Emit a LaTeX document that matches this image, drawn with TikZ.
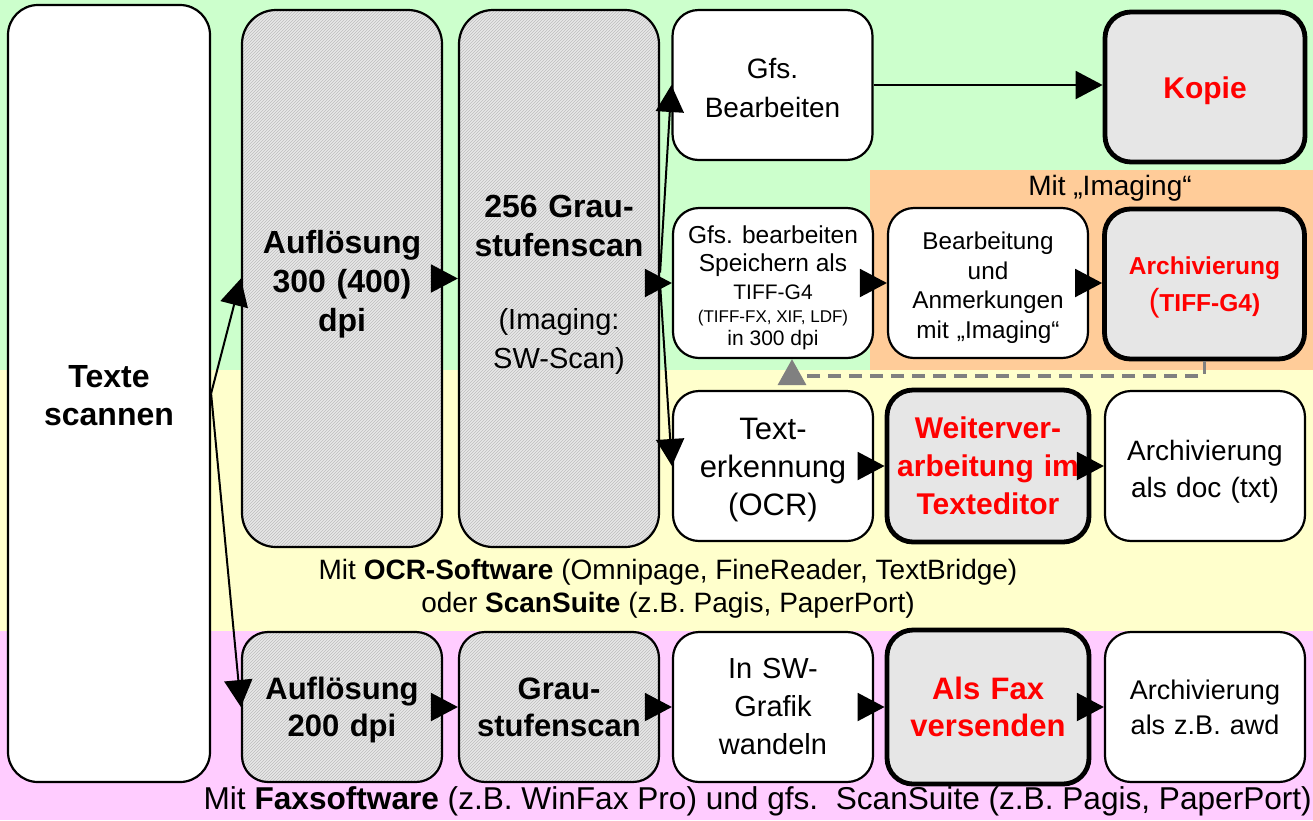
\documentclass[tikz,border=0pt]{standalone}
\usepackage{fontspec}
\setmainfont{Liberation Sans}
\usetikzlibrary{arrows.meta,patterns}
\newcommand\fsz[2]{\fontsize{#1}{#2}\selectfont}
% raise the top of the first line by #1pt (moves the centred text block down by #1/2)
\newcommand\dn[1]{\rule{0pt}{\dimexpr\fontcharht\font`l+#1pt\relax}}
\definecolor{bgGreen}{HTML}{CCFFCC}
\definecolor{bgYellow}{HTML}{FFFFCC}
\definecolor{bgPink}{HTML}{FFCCFF}
\definecolor{bgOrange}{HTML}{FFCC99}
\definecolor{boxGray}{HTML}{E6E6E6}
\definecolor{hatchBack}{HTML}{E8E8E8}
\definecolor{hatchGray}{HTML}{BDBDBD}
\definecolor{dashGray}{HTML}{808080}
\begin{document}
\begin{tikzpicture}[x=1pt,y=-1pt,
  box/.style={draw=black, line width=2.2pt, rounded corners=26pt, fill=white,
    minimum width=200pt, minimum height=150pt, text width=194pt, inner sep=0pt,
    align=center, font=\fsz{30}{38}},
  thickbox/.style={box, line width=4.8pt, fill=boxGray, text=red},
  hatchbox/.style={box, fill=none, preaction={fill=hatchBack}, pattern=north east lines,
    pattern color=hatchGray, font=\fsz{32}{39}\bfseries},
  arr/.style={draw=black, line width=2pt, -{Triangle[length=27pt,width=28pt]}},
  dasharr/.style={draw=dashGray, line width=3.5pt, dash pattern=on 13pt off 8pt,
    -{Triangle[length=26pt,width=28pt]}},
  caption/.style={font=\fsz{28}{33}, inner sep=0pt, align=center}
]
\useasboundingbox (0,0) rectangle (1313,820);
% background bands
\fill[bgGreen] (0,0) rectangle (1313,370);
\fill[bgYellow] (0,370) rectangle (1313,631);
\fill[bgPink] (0,631) rectangle (1313,820);
\fill[bgOrange] (870,170) rectangle (1313,370);

% nodes
\node[box, minimum width=202pt, minimum height=777pt, rounded corners=30pt,
  font=\fsz{32}{38}\bfseries] (tsc) at (109,393.5) {\dn{5}Texte\\scannen};
\node[hatchbox, minimum height=537pt, rounded corners=34pt] (a300) at (342,278.5)
  {\dn{12}Auflösung\\300 (400)\\dpi};
\node[hatchbox, minimum height=537pt, rounded corners=34pt] (g256) at (559,278.5)
  {\dn{13}256 Grau-\\stufenscan\\[34pt]{\mdseries\fsz{29}{36}(Imaging:}\\{\mdseries\fsz{29}{36}SW-Scan)}};

\node[box, font=\fsz{28}{39}] (gfsb) at (772.5,85) {\dn{6}Gfs.\\Bearbeiten};
\node[thickbox, font=\fsz{30}{38}\bfseries] (kopie) at (1205,87) {\dn{8}Kopie};

\node[box, text width={}, font=\fsz{21}{23}] (speich) at (773,283)
  {{\fsz{24.5}{28}\dn{10}Gfs. bearbeiten}\\[5.7pt]{\fsz{24.5}{28}Speichern als}\\[4.3pt]TIFF-G4\\{\fsz{17}{20}(TIFF-FX, XIF, LDF)}\\in 300 dpi};
\node[box, font=\fsz{24.3}{29.5}] (bearb) at (988,283)
  {\dn{10}Bearbeitung\\und\\Anmerkungen\\mit „Imaging“};
\node[thickbox, font=\fsz{24.5}{37}\bfseries] (archt) at (1204.5,284)
  {\dn{8}Archivierung\\{\mdseries\fsz{32}{37}(}TIFF-G4)};

\node[box, font=\fsz{31}{38}] (ocr) at (773,466) {\dn{8}Text-\\erkennung\\(OCR)};
\node[thickbox, minimum width=202pt, minimum height=152pt, font=\fsz{30}{38}\bfseries] (weiter) at (988,466)
  {Weiterver-\\arbeitung im\\Texteditor};
\node[box, font=\fsz{28}{37}] (archd) at (1205,466) {\dn{12}Archivierung\\als doc (txt)};

\node[hatchbox, font=\fsz{31}{37}\bfseries] (a200) at (342,707) {\dn{8}Auflösung\\200 dpi};
\node[hatchbox, font=\fsz{31}{37}\bfseries] (g2) at (559,707) {Grau-\\stufenscan};
\node[box, font=\fsz{29}{38}] (sw) at (773,707) {In SW-\\Grafik\\wandeln};
\node[thickbox, minimum width=202pt, minimum height=154pt, font=\fsz{31}{37}\bfseries] (fax) at (988,707)
  {Als Fax\\versenden};
\node[box, font=\fsz{27}{35}] (archa) at (1205,707) {Archivierung\\als z.B. awd};

% captions
\node[caption] (img) at (1110,188) {Mit „Imaging“};
\node[caption] (ocrcap) at (668,589)
  {Mit \textbf{OCR-Software} (Omnipage, FineReader, TextBridge)\\oder \textbf{ScanSuite} (z.B. Pagis, PaperPort)};
\node[caption, anchor=east, font=\fsz{31.6}{36}] (faxcap) at (1312,801)
  {Mit \textbf{Faxsoftware} (z.B. WinFax Pro) und gfs.\ \ ScanSuite (z.B. Pagis, PaperPort)};

% connectors
\draw[arr] (tsc.east) -- (a300.west);
\draw[arr] (tsc.east) -- (a200.west);
\draw[arr] (a300.east) -- (g256.west);
\draw[arr] ([yshift=6pt]g256.east) -- (gfsb.west);
\draw[arr] ([yshift=-6pt]g256.east) -- (ocr.west);
\draw[arr] (g256.east |- speich.west) -- (speich.west);
\draw[arr] (gfsb.east) -- (gfsb.east -| kopie.west);
\draw[arr] (speich.east) -- (bearb.west);
\draw[arr] (bearb.east) -- (bearb.east -| archt.west);
\draw[arr] (ocr.east) -- (weiter.west);
\draw[arr] (weiter.east) -- (archd.west);
\draw[arr] (a200.east) -- (g2.west);
\draw[arr] (g2.east) -- (sw.west);
\draw[arr] (sw.east) -- (fax.west);
\draw[arr] (fax.east) -- (archa.west);

\coordinate (dcorner) at (archt.south |- 0,376);
\coordinate (dturn) at (792,376);
\draw[dasharr] (archt.south) -- (dcorner) -- (dturn) -- (dturn |- speich.south);
\end{tikzpicture}
\end{document}
